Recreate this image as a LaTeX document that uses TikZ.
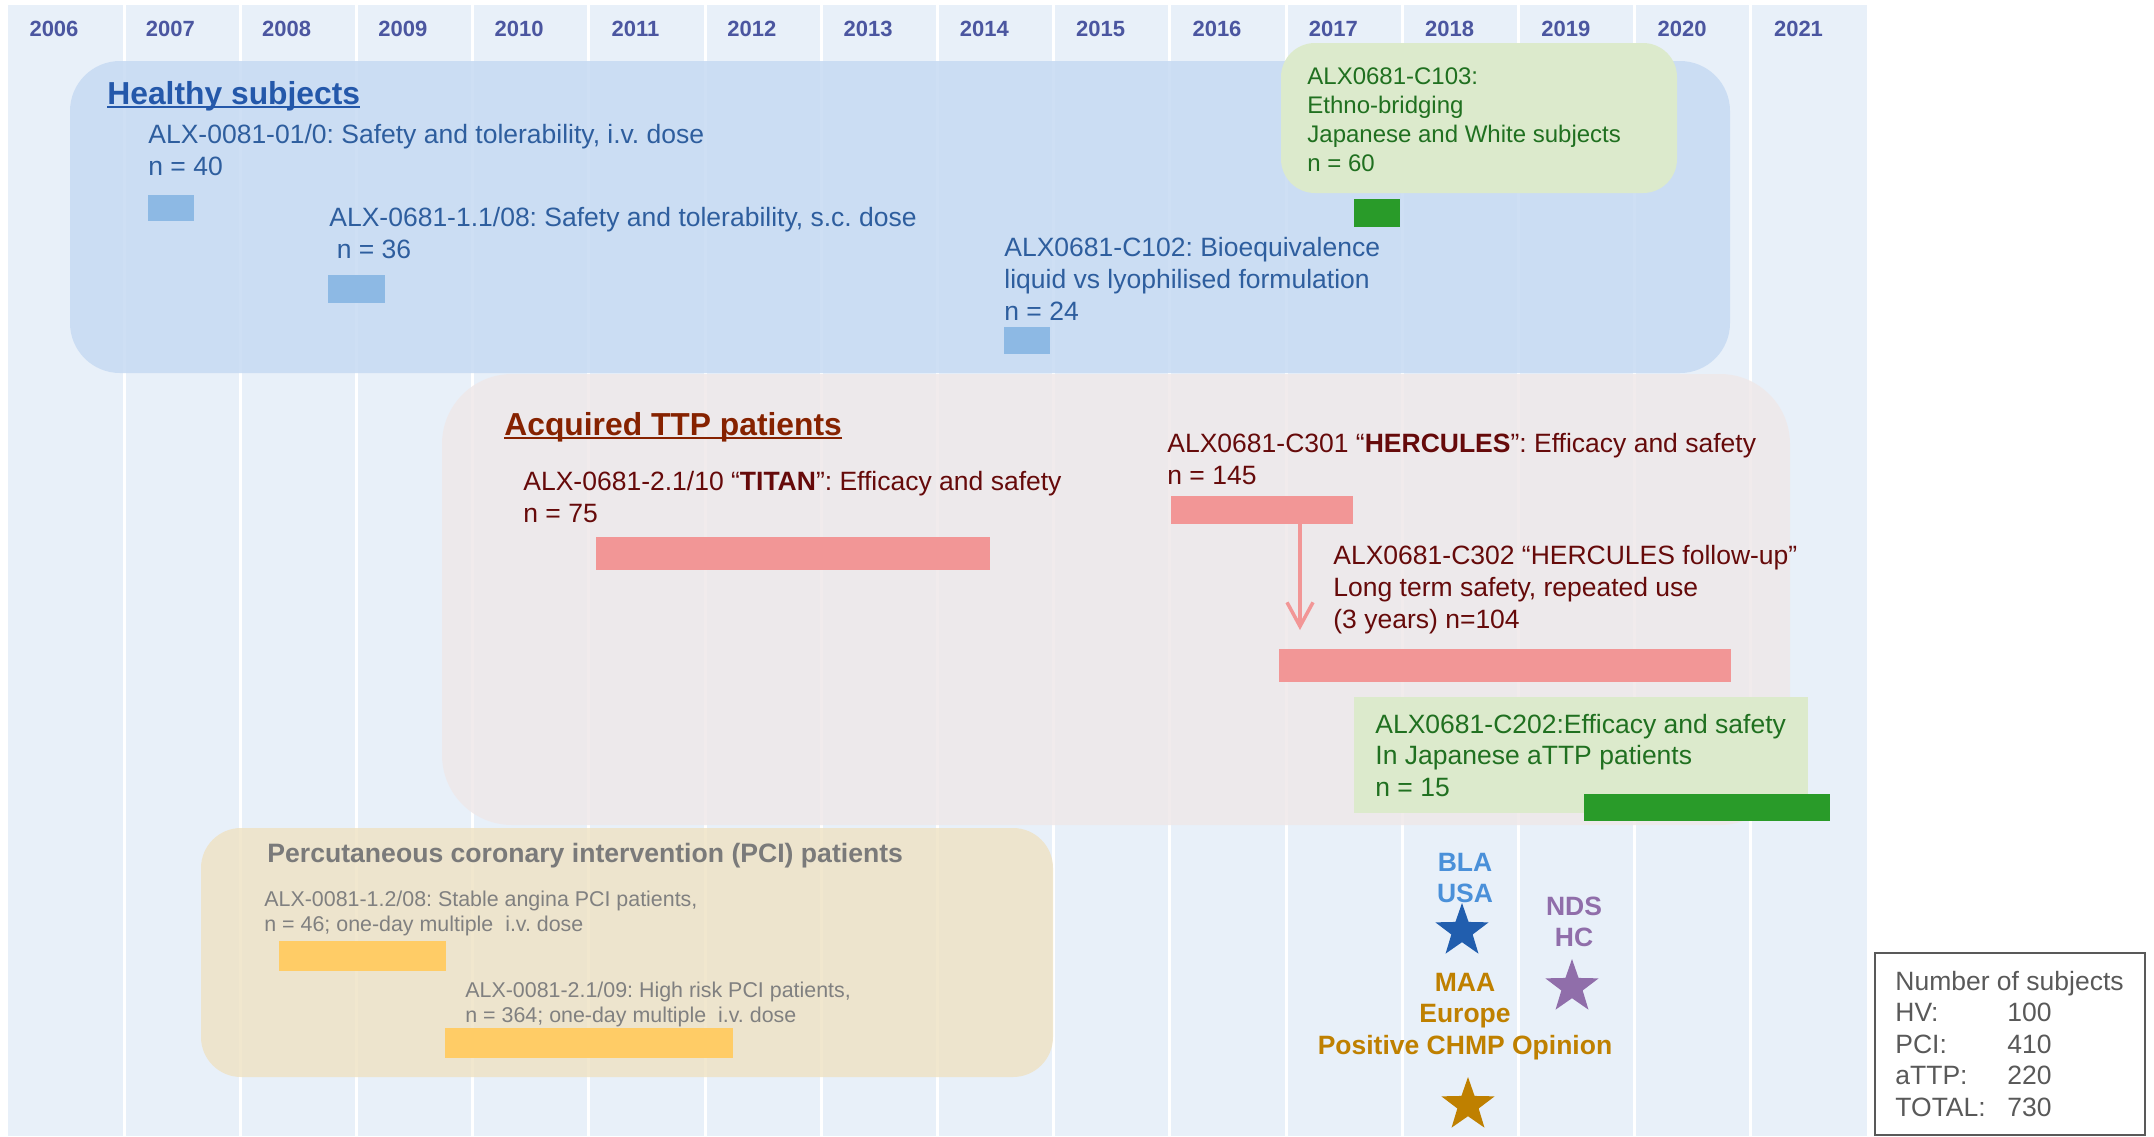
\documentclass[tikz,border=0pt]{standalone}
\usepackage{fontspec}
\setmainfont{Liberation Sans}
\usetikzlibrary{arrows.meta,shapes.geometric}
\frenchspacing

\definecolor{panelblue}{RGB}{232,240,249}
\definecolor{yearblue}{RGB}{75,86,160}
\definecolor{hvfill}{RGB}{198,218,243}
\definecolor{hvhead}{RGB}{36,88,170}
\definecolor{hvtxt}{RGB}{46,94,158}
\definecolor{hvbar}{RGB}{141,185,228}
\definecolor{jpnfill}{RGB}{220,234,204}
\definecolor{jpntxt}{RGB}{32,112,32}
\definecolor{jpnbar}{RGB}{41,155,41}
\definecolor{ttpfill}{RGB}{239,232,233}
\definecolor{ttphead}{RGB}{134,34,0}
\definecolor{ttptxt}{RGB}{102,10,10}
\definecolor{ttpbar}{RGB}{242,150,150}
\definecolor{pcifill}{RGB}{239,227,198}
\definecolor{pcitxt}{RGB}{128,128,128}
\definecolor{pcibar}{RGB}{255,204,102}
\definecolor{usalab}{RGB}{74,144,217}
\definecolor{usastar}{RGB}{33,94,174}
\definecolor{hclab}{RGB}{144,110,170}
\definecolor{eulab}{RGB}{191,128,0}
\definecolor{leggrey}{RGB}{89,89,89}

\newcommand{\headul}[1]{\leavevmode\setbox0=\hbox{#1}\rlap{\rule[-2.1pt]{\wd0}{1.3pt}}\box0}

\begin{document}
\begin{tikzpicture}[x=0.5pt, y=-0.5pt, every node/.style={inner sep=0pt},
  region/.style={fill opacity=0.85},
  yearlab/.style={font=\fontsize{11}{13}\selectfont\bfseries, text=yearblue},
  headline/.style={font=\fontsize{15.9}{19}\selectfont\bfseries, anchor=base west},
  hvtext/.style={font=\fontsize{13.25}{16}\selectfont, text=hvtxt, align=left, anchor=base west},
  ttptext/.style={font=\fontsize{13.25}{16}\selectfont, text=ttptxt, align=left, anchor=base west},
  jpntext/.style={font=\fontsize{13.25}{15.75}\selectfont, text=jpntxt, align=left, anchor=base west},
  pcitext/.style={font=\fontsize{10.7}{12.5}\selectfont, text=pcitxt, align=left, anchor=base west},
  milestone/.style={font=\fontsize{13.25}{15.75}\selectfont\bfseries, align=center, anchor=base},
  award/.style={star, star points=5, star point ratio=2.5, minimum size=28pt},
  fuarrow/.style={draw=ttpbar, line width=1.75pt, -{Straight Barb[length=12pt,width=13pt]}}]

\useasboundingbox (0,0) rectangle (2154,1136);
\fill[panelblue] (8,5) rectangle (1867,1136);
\foreach \k in {1,...,15}
  \draw[white, line width=1.5pt] ({124+(\k-1)*116.2},5) -- ({124+(\k-1)*116.2},1136);
\foreach \k in {0,...,15} {
  \pgfmathtruncatemacro{\yr}{2006+\k}
  \node[yearlab] (y\yr) at ({54+\k*116.3},28.5) {\yr};
}

\fill[hvfill, region, rounded corners=25pt] (70,61) rectangle (1730,373);
\fill[ttpfill, region, rounded corners=35pt] (442,374) rectangle (1790,825);
\fill[pcifill, region, rounded corners=20pt] (201,828) rectangle (1053,1077);
\fill[jpnfill, rounded corners=17pt] (1281,43) rectangle (1677,193);
\fill[jpnfill] (1354,697) rectangle (1808,813);

\fill[hvbar] (148,195) rectangle (194,221);
\fill[hvbar] (328,275) rectangle (385,303);
\fill[hvbar] (1004,327) rectangle (1050,354);
\fill[jpnbar] (1354,199) rectangle (1400,227);
\fill[ttpbar] (596,537) rectangle (990,570);
\fill[ttpbar] (1171,496) rectangle (1353,524);
\fill[ttpbar] (1279,649) rectangle (1731,682);
\fill[jpnbar] (1584,794) rectangle (1830,821);
\fill[pcibar] (279,941) rectangle (446,971);
\fill[pcibar] (445,1028) rectangle (733,1058);

% multi-line nodes sit on the baseline of their last line
\node[headline, text=hvhead] (hvtitle) at (107,104) {\headul{Healthy subjects}};
\node[hvtext] (hv1) at (148,175) {ALX-0081-01/0: Safety and tolerability, i.v. dose\\ n = 40};
\node[hvtext] (hv2) at (329,258) {ALX-0681-1.1/08: Safety and tolerability, s.c. dose\\ ~n = 36};
\node[hvtext] (c102) at (1004,320) {ALX0681-C102: Bioequivalence\\ liquid vs lyophilised formulation\\ n = 24};
\node[jpntext, font=\fontsize{12}{14.5}\selectfont] (c103) at (1307,171.5) {ALX0681-C103:\\ Ethno-bridging\\ Japanese and White subjects\\ n = 60};

\node[headline, text=ttphead] (ttptitle) at (504,435) {\headul{Acquired TTP patients}};
\node[ttptext] (titan) at (523,522) {ALX-0681-2.1/10 “\textbf{TITAN}”: Efficacy and safety\\ n = 75};
\node[ttptext] (c301) at (1167,484) {ALX0681-C301 “\textbf{HERCULES}”: Efficacy and safety\\ n = 145};
\node[ttptext] (c302) at (1333,628) {ALX0681-C302 “HERCULES follow-up”\\ Long term safety, repeated use\\ (3 years) n=104};
\node[jpntext] (c202) at (1375,796) {ALX0681-C202:Efficacy and safety\\ In Japanese aTTP patients\\ n = 15};
\coordinate (c301bar) at (1300,524);
\coordinate (c302top) at (1300,630);
\draw[fuarrow] (c301bar) -- (c302top);

\node[headline, font=\fontsize{13.3}{16}\selectfont\bfseries, text=pcitxt!95!black] (pcititle) at (267,862) {Percutaneous coronary intervention (PCI) patients};
\node[pcitext] (pci1) at (264,931) {ALX-0081-1.2/08: Stable angina PCI patients,\\ n = 46; one-day multiple\ \ i.v. dose};
\node[pcitext] (pci2) at (465,1022) {ALX-0081-2.1/09: High risk PCI patients,\\ n = 364; one-day multiple\ \ i.v. dose};

\node[milestone, text=usalab] (bla) at (1465,902.5) {BLA\\ USA};
\node[award, fill=usastar] (usastar) at (1462,931) {};
\node[milestone, text=hclab] (nds) at (1574,946.5) {NDS\\ HC};
\node[award, fill=hclab] (hcstar) at (1572,987) {};
\node[milestone, text=eulab] (maa) at (1465,1054) {MAA\\ Europe\\ Positive CHMP Opinion};
\node[award, fill=eulab] (eustar) at (1468,1105) {};

\draw[leggrey, line width=1pt] (1875,953) rectangle (2145,1135);
\node[font=\fontsize{13.25}{15.75}\selectfont, text=leggrey, align=left, anchor=base west] (legend) at (1895,1116)
  {Number of subjects\\ \makebox[56pt][l]{HV:}100\\ \makebox[56pt][l]{PCI:}410\\ \makebox[56pt][l]{aTTP:}220\\ \makebox[56pt][l]{TOTAL:}730};
\end{tikzpicture}
\end{document}
